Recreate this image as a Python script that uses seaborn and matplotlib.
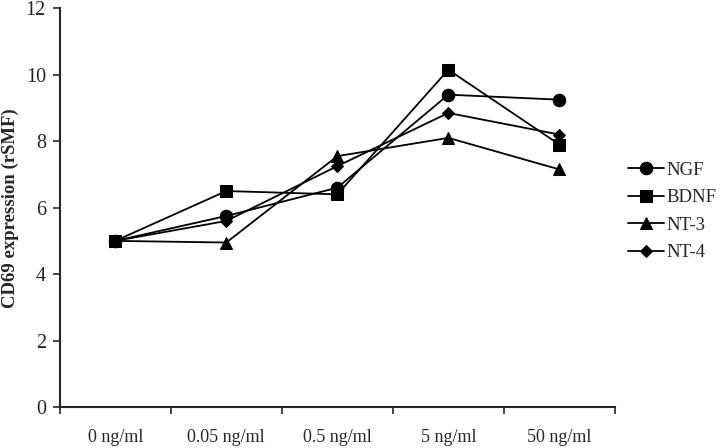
import pandas as pd
import numpy as np
import matplotlib
matplotlib.use('Agg')
import matplotlib.pyplot as plt
import seaborn as sns

# doses on the x axis
doses = ['0 ng/ml', '0.05 ng/ml', '0.5 ng/ml', '5 ng/ml', '50 ng/ml']
# CD69 expression
ngf = [5.0, 5.75, 6.6, 9.4, 9.25]
bdnf = [5.0, 6.5, 6.4, 10.15, 7.9]
nt3 = [5.0, 4.95, 7.55, 8.1, 7.15]
nt4 = [5.0, 5.6, 7.25, 8.85, 8.2]

series = {'NGF': ngf, 'BDNF': bdnf, 'NT-3': nt3, 'NT-4': nt4}
rows = []
for name, vals in series.items():
    for i, v in enumerate(vals):
        rows.append({'dose': i, 'value': v, 'factor': name})
df = pd.DataFrame(rows)

sns.set_style('ticks')
plt.rcParams['font.family'] = ['Liberation Serif', 'DejaVu Serif']

fig = plt.figure(figsize=(7.2, 4.48), dpi=100)
ax = fig.add_axes([0.083, 0.0915, 0.771, 0.89])

markers = {'NGF': 'o', 'BDNF': 's', 'NT-3': '^', 'NT-4': 'D'}
sizes = {'NGF': 9, 'BDNF': 9, 'NT-3': 9, 'NT-4': 6.5}
for name in series:
    sub = df[df['factor'] == name]
    sns.lineplot(data=sub, x='dose', y='value', ax=ax, color='black',
                 marker=markers[name], markersize=sizes[name],
                 markeredgecolor='black', linewidth=1.3, label=name)

ax.set_xlim(-0.5, 4.5)
ax.set_ylim(0, 12)
ax.set_yticks(range(0, 13, 2))
ax.set_xticks(range(len(doses)))
ax.set_xticklabels(doses, fontsize=13)
ax.set_xticks(np.arange(-0.5, 4.6, 1), minor=True)
ax.tick_params(axis='x', which='major', length=0, pad=16)
ax.tick_params(axis='x', which='minor', length=5, width=1.2, direction='out')
ax.tick_params(axis='y', labelsize=14.5, length=5, width=1.2, direction='out', pad=5)
ax.set_xlabel('')
ax.set_ylabel('CD69 expression (rSMF)', fontsize=13.5, fontweight='bold')
ax.yaxis.set_label_coords(-0.074, 0.5)
for s in ['top', 'right']:
    ax.spines[s].set_visible(False)
for s in ['left', 'bottom']:
    ax.spines[s].set_linewidth(1.5)

ax.legend(loc='center left', bbox_to_anchor=(1.0, 0.49), frameon=False,
          fontsize=13.5, handlelength=1.9, handletextpad=0.15, labelspacing=0.55,
          borderaxespad=0.3)

fig.savefig('out.png', dpi=100)
